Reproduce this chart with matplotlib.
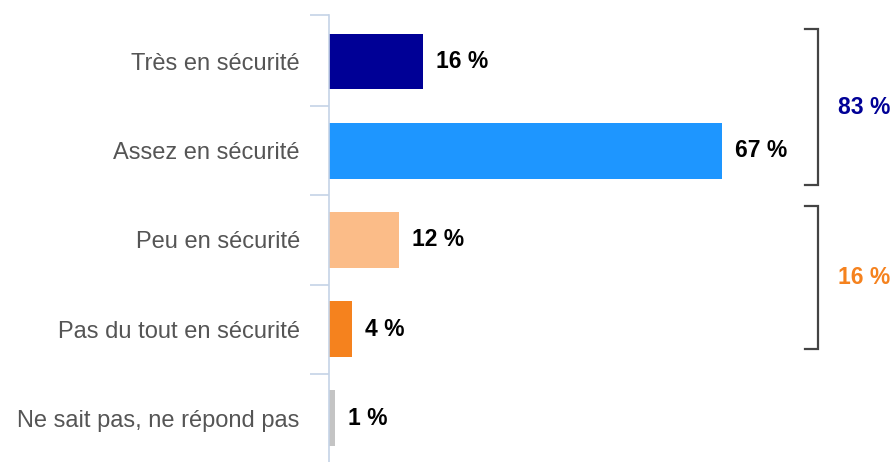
import matplotlib.pyplot as plt

# DATA

categories = ["Très en sécurité", "Assez en sécurité", "Peu en sécurité",
              "Pas du tout en sécurité", "Ne sait pas, ne répond pas"]
values = [16, 67, 12, 4, 1]
colors = ["#000096", "#1E96FF", "#FBBC88", "#F5821E", "#C4C4C4"]
group_labels = ["83 %", "16 %"]
group_colors = ["#000096", "#F5821E"]
group_spans = [(0, 1), (2, 3)]

plt.rcParams['font.family'] = ['Liberation Sans', 'DejaVu Sans']

fig = plt.figure(figsize=(8.94, 4.62), dpi=100)
# axes spans y 15..463 px (bottom slightly clipped like the original)
ax = fig.add_axes([329 / 894, -1 / 462, 1 - 329 / 894, 448 / 462])

y = list(range(len(categories)))
ax.barh(y, values, height=0.625, color=colors)
ax.set_xlim(0, 565 / 5.87)
ax.set_ylim(4.5, -0.5)

for yi, v in zip(y, values):
    ax.text(v + 2.2, yi, f"{v} %", va="center", ha="left",
            fontsize=16.5, fontweight="bold", color="black")

# axis styling
for s in ["top", "right", "bottom"]:
    ax.spines[s].set_visible(False)
ax.spines["left"].set_color("#C5D3E6")
ax.spines["left"].set_linewidth(1.2)
ax.spines["left"].set_bounds(4.5, -0.52)
ax.set_xticks([])
ax.set_yticks([-0.52, 0.5, 1.5, 2.5, 3.5])
ax.set_yticklabels([])
ax.set_yticks(y, minor=True)
ax.set_yticklabels(categories, minor=True, fontsize=17, color="#555555")
ax.tick_params(axis="y", which="major", length=14, width=1.2, color="#C5D3E6")
ax.tick_params(axis="y", which="minor", length=0, pad=21)

# brackets
bracket_ext = [(-0.36, 0.385), (-0.38, 0.22)]
for (a, b), (dt, db), lab, col in zip(group_spans, bracket_ext, group_labels, group_colors):
    top = a + dt
    bot = b + db
    xb = 83.3
    arm = 2.2
    ax.plot([xb - arm, xb, xb, xb - arm], [top, top, bot, bot],
            color="#444444", lw=1.6, clip_on=False, solid_joinstyle="miter")
    ax.text(xb + 3.4, (top + bot) / 2, lab, color=col, fontsize=16.5,
            fontweight="bold", ha="left", va="center", clip_on=False)

fig.savefig("out.png", dpi=100)
